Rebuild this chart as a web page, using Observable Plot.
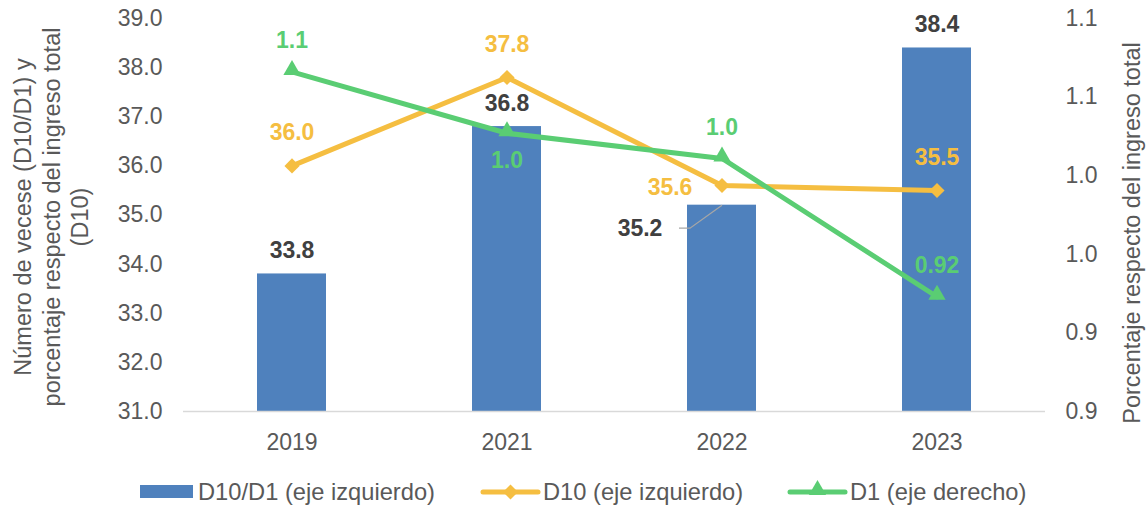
<!DOCTYPE html>
<html><head><meta charset="utf-8">
<script src="https://cdn.jsdelivr.net/npm/d3@7"></script>
<script src="https://cdn.jsdelivr.net/npm/@observablehq/plot@0.6"></script>
<style>
body{margin:0;background:#fff;font-family:"Liberation Sans",Arial,sans-serif;}
#chart svg{display:block;}
</style></head><body><div id="chart"></div><div id="legend"></div>
<script>
const years = ["2019","2021","2022","2023"];
const ratio = [33.8, 36.8, 35.2, 38.4];
const d10 = [36.0, 37.8, 35.6, 35.5];
const d1 = [1.066, 1.027, 1.011, 0.923];
const ratioLabels = ["33.8","36.8","35.2","38.4"];
const d10Labels = ["36.0","37.8","35.6","35.5"];
const d1Labels = ["1.1","1.0","1.0","0.92"];
const leftTicks = [31,32,33,34,35,36,37,38,39];
const rightTicks = [0.85,0.90,0.95,1.00,1.05,1.10];
const rightTickLabels = ["0.9","0.9","1.0","1.0","1.1","1.1"];
const seriesNames = ["D10/D1 (eje izquierdo)","D10 (eje izquierdo)","D1 (eje derecho)"];
const leftTitle = "Número de vecese (D10/D1) y\nporcentaje respecto del ingreso total\n(D10)";
const rightTitle = "Porcentaje respecto del ingreso total";

const BLUE = "#4F81BD", ORANGE = "#F5BE41", GREEN = "#5ACD73";
const LDOM = [31, 39], RDOM = [0.85, 1.10];
const toLeft = v => LDOM[0] + (v - RDOM[0]) / (RDOM[1] - RDOM[0]) * (LDOM[1] - LDOM[0]);

const rows = years.map((y, i) => ({
  year: y, ratio: ratio[i], d10: d10[i], d1: toLeft(d1[i]),
  ratioLabel: ratioLabels[i], d10Label: d10Labels[i], d1Label: d1Labels[i]
}));
const is = y => d => d.year === y;
const not = y => d => d.year !== y;

const leaderSymbol = {
  draw(ctx) { ctx.moveTo(0, 0); ctx.lineTo(-32, 23); ctx.lineTo(-43, 23); }
};

const FS = 23;
const plot = Plot.plot({
  width: 1147, height: 465,
  marginTop: 18, marginBottom: 54, marginLeft: 183, marginRight: 102,
  x: {type: "band", domain: years, paddingInner: 0.68, paddingOuter: 0.34},
  y: {domain: LDOM},
  style: {fontFamily: "'Liberation Sans', Arial, sans-serif", fontSize: FS + "px", color: "#595959", background: "white"},
  marks: [
    Plot.barY(rows, {x: "year", y1: LDOM[0], y2: "ratio", fill: BLUE}),
    Plot.ruleY([LDOM[0]], {stroke: "#d9d9d9", strokeWidth: 1.5}),
    Plot.axisY(leftTicks, {tickSize: 0, tickPadding: 21, tickFormat: d => d.toFixed(1), fontSize: FS, label: null}),
    Plot.axisY(rightTicks.map(toLeft), {anchor: "right", tickSize: 0, tickPadding: 20, fontSize: FS, label: null,
      tickFormat: d => rightTickLabels[rightTicks.findIndex(t => Math.abs(toLeft(t) - d) < 1e-6)]}),
    Plot.axisX({tickSize: 0, tickPadding: 22, fontSize: FS, label: null}),
    Plot.line(rows, {x: "year", y: "d10", stroke: ORANGE, strokeWidth: 5}),
    Plot.dot(rows, {x: "year", y: "d10", symbol: "diamond2", r: 6.8, fill: ORANGE, stroke: "none"}),
    Plot.line(rows, {x: "year", y: "d1", stroke: GREEN, strokeWidth: 5}),
    Plot.dot(rows, {x: "year", y: "d1", symbol: "triangle", r: 6.4, fill: GREEN, stroke: "none", dy: -2}),
    // bar labels
    Plot.text(rows.filter(not("2022")), {x: "year", y: "ratio", text: "ratioLabel", dy: -23, fill: "#404040", fontWeight: "bold", fontSize: FS}),
    Plot.text(rows.filter(is("2022")), {x: "year", y: "ratio", text: "ratioLabel", dx: -82, dy: 23, fill: "#404040", fontWeight: "bold", fontSize: FS}),
    Plot.dot(rows.filter(is("2022")), {x: "year", y: "ratio", symbol: leaderSymbol, r: 5, fill: "none", stroke: "#a6a6a6", strokeWidth: 1.3}),
    // D10 labels
    Plot.text(rows.filter(not("2022")), {x: "year", y: "d10", text: "d10Label", dy: -33, fill: ORANGE, fontWeight: "bold", fontSize: FS}),
    Plot.text(rows.filter(is("2022")), {x: "year", y: "d10", text: "d10Label", dx: -52, dy: 2, fill: ORANGE, fontWeight: "bold", fontSize: FS}),
    // D1 labels
    Plot.text(rows.filter(not("2021")), {x: "year", y: "d1", text: "d1Label", dy: -31, fill: GREEN, fontWeight: "bold", fontSize: FS}),
    Plot.text(rows.filter(is("2021")), {x: "year", y: "d1", text: "d1Label", dy: 27, fill: GREEN, fontWeight: "bold", fontSize: FS}),
    // axis titles
    Plot.text([leftTitle], {frameAnchor: "left", textAnchor: "middle", lineAnchor: "middle", text: d => d, rotate: -90, dx: -133, dy: 2, lineHeight: 1.22, fontSize: 23.5, fill: "#595959"}),
    Plot.text([rightTitle], {frameAnchor: "right", textAnchor: "middle", lineAnchor: "middle", text: d => d, rotate: -90, dx: 87, dy: 18, fontSize: 23.5, fill: "#595959"})
  ]
});
document.getElementById("chart").appendChild(plot);

// legend
const LFS = 23.7;
const lg = d3.select("#legend").append("svg").attr("width", 1147).attr("height", 43)
  .style("display", "block").style("font-family", "'Liberation Sans', Arial, sans-serif").style("font-size", LFS + "px");
const cy = 27;
lg.append("rect").attr("x", 140).attr("y", cy - 7).attr("width", 53).attr("height", 13).attr("fill", BLUE);
lg.append("text").attr("x", 198).attr("y", cy).attr("dy", "0.35em").attr("fill", "#595959").text(seriesNames[0]);
lg.append("line").attr("x1", 483).attr("x2", 538).attr("y1", cy).attr("y2", cy).attr("stroke", ORANGE).attr("stroke-width", 5).attr("stroke-linecap", "round");
lg.append("path").attr("transform", `translate(510.5,${cy})`).attr("d", d3.symbol(d3.symbolDiamond2, 144)()).attr("fill", ORANGE);
lg.append("text").attr("x", 543).attr("y", cy).attr("dy", "0.35em").attr("fill", "#595959").text(seriesNames[1]);
lg.append("line").attr("x1", 790).attr("x2", 845).attr("y1", cy).attr("y2", cy).attr("stroke", GREEN).attr("stroke-width", 5).attr("stroke-linecap", "round");
lg.append("path").attr("transform", `translate(817.5,${cy - 2})`).attr("d", d3.symbol(d3.symbolTriangle, 130)()).attr("fill", GREEN);
lg.append("text").attr("x", 850).attr("y", cy).attr("dy", "0.35em").attr("fill", "#595959").text(seriesNames[2]);
</script></body></html>
